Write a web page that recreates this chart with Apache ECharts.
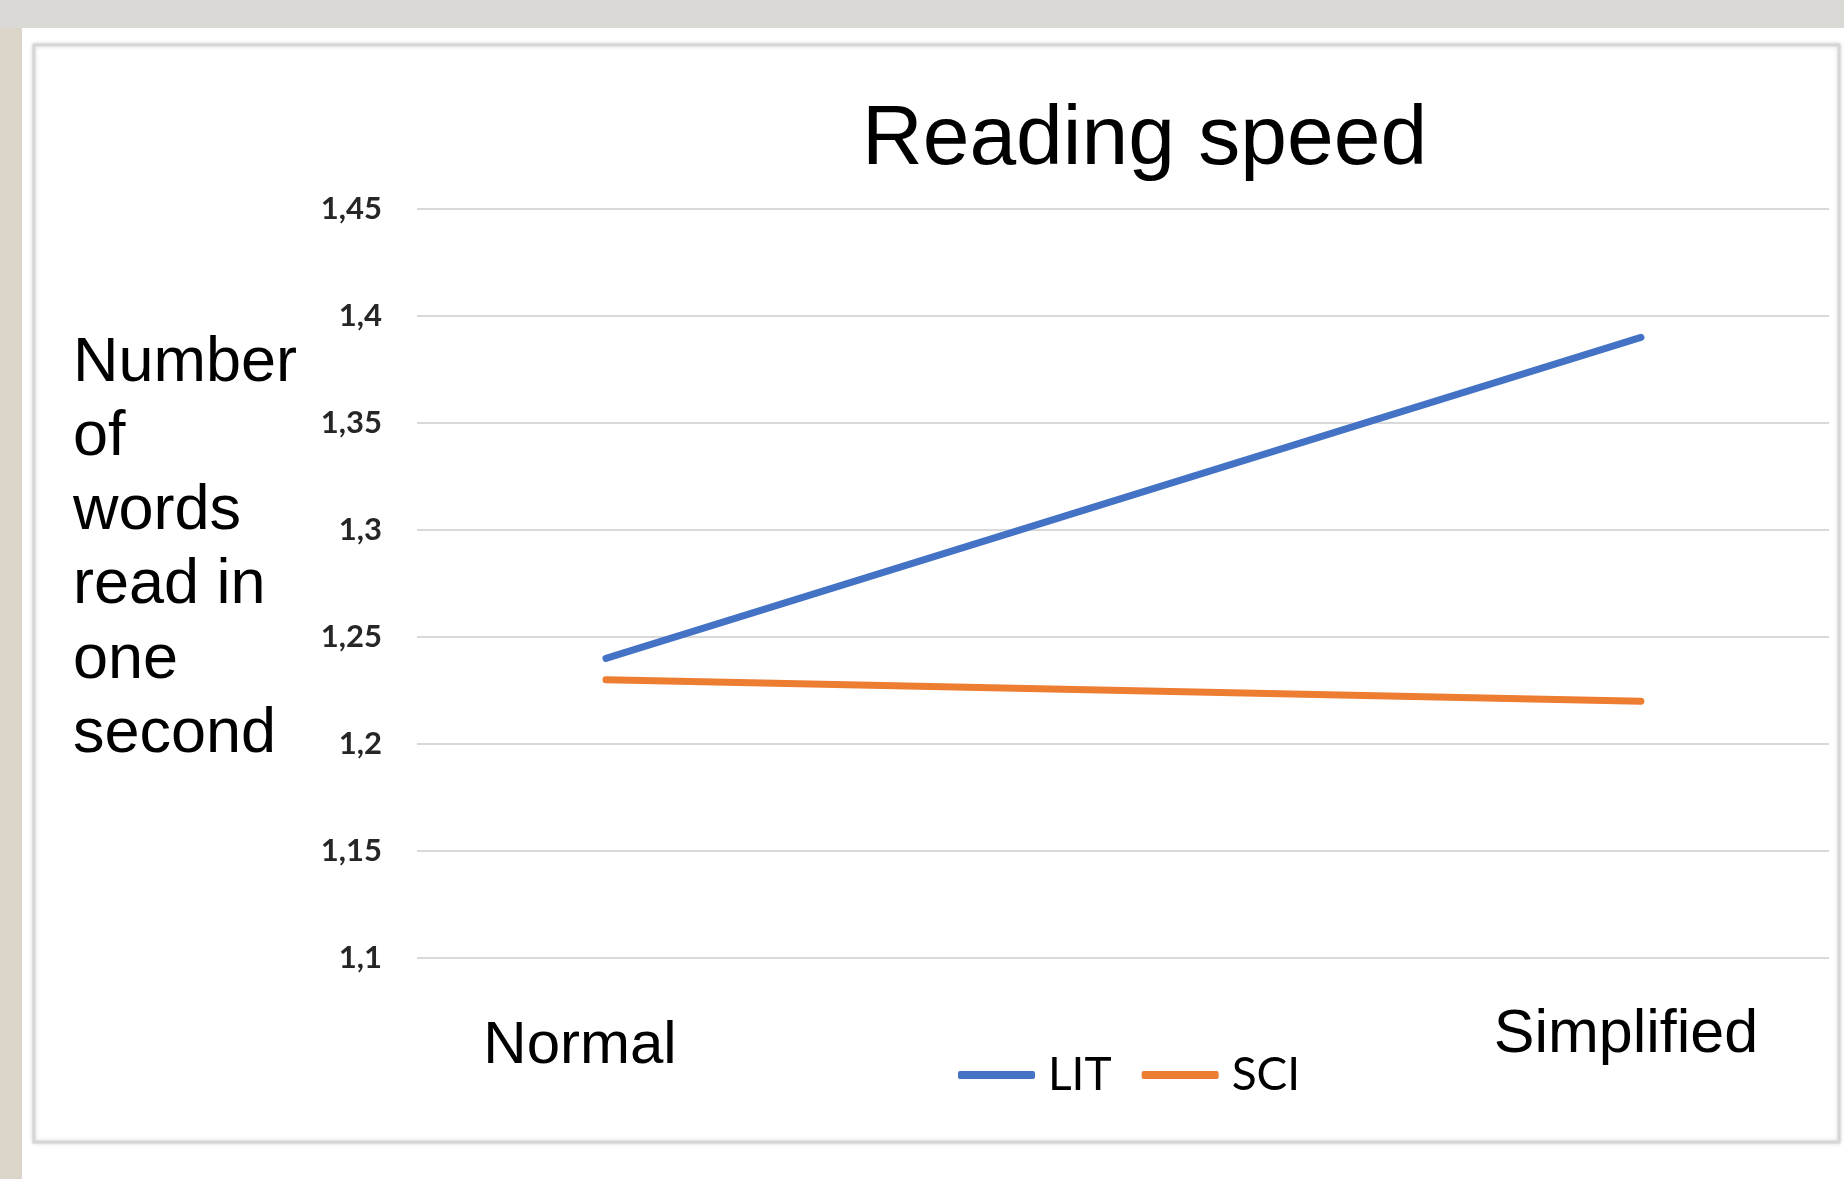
<!DOCTYPE html>
<html>
<head>
<meta charset="utf-8">
<script src="https://cdn.jsdelivr.net/npm/echarts@6/dist/echarts.min.js"></script>
<style>
html,body{margin:0;padding:0;background:#fff;}
#c{width:1844px;height:1179px;}
</style>
</head>
<body>
<div id="c"></div>
<script>
// ---- data ----
const categories = ['Normal', 'Simplified'];
const seriesNames = ['LIT', 'SCI'];
const litValues = [1.24, 1.39];
const sciValues = [1.23, 1.22];
const yTickLabels = ['1,1', '1,15', '1,2', '1,25', '1,3', '1,35', '1,4', '1,45'];
const titleText = 'Reading speed';
const yAxisTitle = ['Number', 'of', 'words', 'read in', 'one', 'second'];

const chart = echarts.init(document.getElementById('c'), null, {renderer: 'canvas'});

const toPairs = arr => arr.map((v, i) => [i, v]);

const option = {
  backgroundColor: '#ffffff',
  animation: false,
  graphic: [
    {type: 'rect', z: -10, silent: true, shape: {x: 0, y: 0, width: 1844, height: 28}, style: {fill: '#dad9d5'}},
    {type: 'rect', z: -10, silent: true, shape: {x: 0, y: 28, width: 22, height: 1151}, style: {fill: '#dcd6ca'}},
    {type: 'rect', z: -9, silent: true, shape: {x: 34, y: 45, width: 1805, height: 1097},
      style: {fill: '#ffffff', stroke: '#d6d6d6', lineWidth: 3, shadowBlur: 4, shadowColor: 'rgba(0,0,0,0.15)'}}
  ],
  title: [
    {text: titleText, left: 857, top: 94,
      textStyle: {fontFamily: 'Liberation Sans, Arial', fontSize: 84, fontWeight: 'normal', color: '#000'}},
    {text: yAxisTitle.join('\n'), left: 68, top: 321,
      textStyle: {fontFamily: 'Liberation Sans, Arial', fontSize: 63, lineHeight: 74.3, fontWeight: 'normal', color: '#000'}}
  ],
  legend: {
    left: 953, top: 1047,
    itemWidth: 77, itemHeight: 8, itemGap: 30,
    icon: 'roundRect',
    data: seriesNames,
    textStyle: {fontFamily: 'Lato, Liberation Sans', fontSize: 46, color: '#000', padding: [0, 0, 0, 8]}
  },
  grid: {left: 417, right: 15, top: 209, bottom: 221, containLabel: false},
  xAxis: {
    type: 'value',
    min: -0.1826, max: 1.1817,
    splitLine: {show: false},
    axisLine: {show: false},
    axisTick: {show: false},
    axisLabel: {
      customValues: [0, 1],
      margin: 47,
      formatter: v => (v === 0 ? '{n|' : '{s|') + categories[v] + '}',
      rich: {
        n: {fontFamily: 'Liberation Sans, Arial', fontSize: 60, color: '#000', padding: [11, 52, 0, 0]},
        s: {fontFamily: 'Liberation Sans, Arial', fontSize: 61, color: '#000', padding: [0, 30, 0, 0]}
      }
    }
  },
  yAxis: {
    type: 'value',
    min: 1.1, max: 1.45, interval: 0.05,
    axisLine: {show: false},
    axisTick: {show: false},
    splitLine: {lineStyle: {color: '#d9d9d9', width: 2}},
    axisLabel: {
      margin: 35,
      fontFamily: 'Lato, Liberation Sans', fontSize: 31, fontWeight: 'bold', color: '#262626',
      formatter: v => yTickLabels[Math.round((v - 1.1) / 0.05)]
    }
  },
  series: [
    {name: seriesNames[0], type: 'line', data: toPairs(litValues), symbol: 'none',
      color: '#4472c4', lineStyle: {width: 7, color: '#4472c4', cap: 'round'}},
    {name: seriesNames[1], type: 'line', data: toPairs(sciValues), symbol: 'none',
      color: '#ed7d31', lineStyle: {width: 7, color: '#ed7d31', cap: 'round'}}
  ]
};
chart.setOption(option);
</script>
</body>
</html>
